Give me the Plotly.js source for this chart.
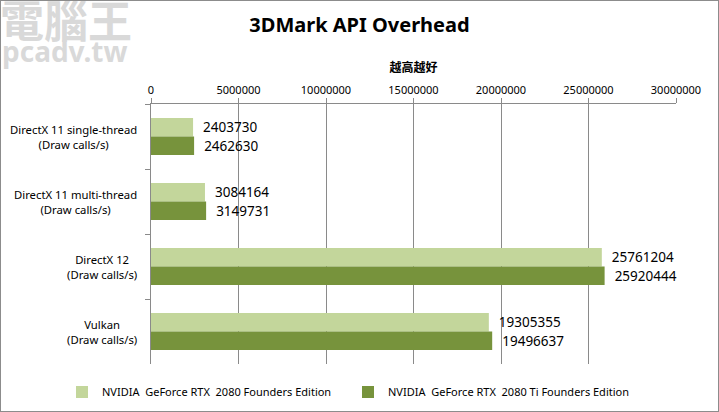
<!DOCTYPE html>
<html><head><meta charset="utf-8">
<script src="https://cdn.plot.ly/plotly-3.0.1.min.js"></script>
<style>html,body{margin:0;padding:0;background:#fff}#wrap{position:relative;width:719px;height:412px}#chart{width:719px;height:412px}#frame{position:absolute;left:0;top:0;width:717px;height:410px;border:1px solid #8c8c8c;pointer-events:none}</style>
</head><body><div id="wrap"><div id="chart"></div><div id="frame"></div></div>
<script>
const categories = ["DirectX 11 single-thread<br>(Draw calls/s)", "DirectX 11 multi-thread<br>(Draw calls/s)", "DirectX 12<br>(Draw calls/s)", "Vulkan<br>(Draw calls/s)"];
const seriesNames = ["NVIDIA  GeForce RTX  2080 Founders Edition", "NVIDIA  GeForce RTX  2080 Ti Founders Edition"];
const rtx2080 = [2403730, 3084164, 25761204, 19305355];
const rtx2080ti = [2462630, 3149731, 25920444, 19496637];
const xTicks = [0, 5000000, 10000000, 15000000, 20000000, 25000000, 30000000];
const colors = ["#c3d69b", "#77933c"];
const font = "Noto Sans, DejaVu Sans, sans-serif";
const cjk = "Noto Sans CJK TC, Noto Sans CJK SC, sans-serif";

const mk = (vals, i) => ({
  type: "bar", orientation: "h", name: seriesNames[i],
  y: categories, x: vals,
  marker: {color: colors[i]},
  text: vals.map(v => "\u00a0\u00a0" + v),
  textposition: "outside", cliponaxis: false,
  textfont: {family: font, size: 13.5, color: "#000"},
  hoverinfo: "x"
});

const annotations = categories.map(c => ({
  xref: "paper", yref: "y", x: 0, y: c, xanchor: "right", yanchor: "middle",
  xshift: -12, text: c, showarrow: false, align: "center",
  font: {family: font, size: 11.3, color: "#000"}
}));
annotations.push({xref: "paper", yref: "paper", x: -151/525, y: 1 + (104-19)/261, xanchor: "left", yanchor: "middle",
  text: "<b>電腦王</b>", showarrow: false, font: {family: cjk, size: 44, color: "#d9d9d9"}, xshift: -2});
annotations.push({xref: "paper", yref: "paper", x: -151/525, y: 1 + (104-51)/261, xanchor: "left", yanchor: "middle",
  text: "<b>pcadv.tw</b>", showarrow: false, font: {family: font, size: 28, color: "#d9d9d9"}, xshift: 0});

const layout = {
  width: 719, height: 412,
  margin: {l: 151, r: 43, t: 104, b: 48, autoexpand: false},
  paper_bgcolor: "#fff", plot_bgcolor: "#fff",
  title: {text: "<b>3DMark API Overhead</b>", x: 0.5, xref: "container", xanchor: "center", y: 1 - 25/412, yanchor: "middle",
    font: {family: font, size: 20, color: "#000"}},
  barmode: "group", bargap: 0.43, bargroupgap: 0,
  xaxis: {side: "top", range: [0, 30000000], tickvals: xTicks, ticktext: xTicks.map(String),
    showgrid: true, gridcolor: "#8a8a8a", gridwidth: 1, zeroline: false,
    showline: true, linecolor: "#8a8a8a", linewidth: 1, mirror: false,
    ticks: "outside", ticklen: 5, tickcolor: "#8a8a8a",
    tickfont: {family: font, size: 11, color: "#000"},
    title: {text: "<b>越高越好</b>", font: {family: cjk, size: 12, color: "#000"}, standoff: 6}},
  yaxis: {type: "category", autorange: "reversed", showticklabels: false, showgrid: false, zeroline: false,
    showline: true, linecolor: "#8a8a8a", linewidth: 1, ticks: "outside", ticklen: 5, tickcolor: "#8a8a8a",
    tickson: "boundaries"},
  legend: {orientation: "h", x: -89/525, xanchor: "left", y: -(392-364)/260, yanchor: "middle",
    font: {family: font, size: 11, color: "#000"}, entrywidth: 241, entrywidthmode: "pixels",
    itemwidth: 30, traceorder: "normal"},
  annotations: annotations,
  showlegend: true
};

Plotly.newPlot("chart", [mk(rtx2080, 0), mk(rtx2080ti, 1)], layout, {displayModeBar: false, staticPlot: true});
</script></body></html>
